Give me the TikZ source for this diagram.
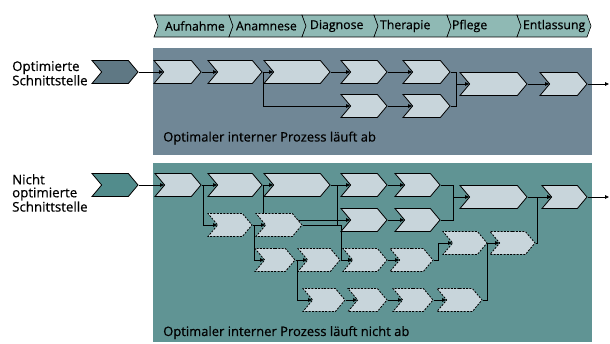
\documentclass[tikz,border=0pt]{standalone}
\usepackage{fontspec}
\setmainfont{Open Sans}
\newfontfamily\lblfont{Open Sans}[FakeBold=0.6]
\usetikzlibrary{positioning,shapes.symbols,arrows.meta}

\definecolor{phasefill}{HTML}{8FB9B4}
\definecolor{optpanel}{HTML}{708796}
\definecolor{noptpanel}{HTML}{609494}
\definecolor{stepfill}{HTML}{C8D5DB}
\definecolor{optin}{HTML}{5F7884}
\definecolor{noptin}{HTML}{528C8C}

\pgfdeclarelayer{panels}
\pgfdeclarelayer{lines}
\pgfsetlayers{panels,lines,main}

\tikzset{
  chev/.style={signal, signal from=west, signal to=east, signal pointer angle=100,
    draw=black, line width=0.8pt, fill=stepfill, inner sep=0pt, minimum height=23pt},
  extra/.style={chev, dash pattern=on 2pt off 1.3pt},
  phase/.style={signal, signal from=west, signal to=east, signal pointer angle=140,
    draw=black, line width=0.6pt, fill=phasefill, inner sep=0pt, minimum height=22pt,
    align=left, font=\lblfont\fontsize{12.3}{13}\selectfont},
  flow/.style={-{Triangle[length=4pt,width=3.5pt]}, line width=0.8pt},
  link/.style={line width=0.8pt},
  txt/.style={inner sep=0pt, font=\lblfont\fontsize{13}{13}\selectfont},
}

\begin{document}
\begin{tikzpicture}[x=1pt,y=-1pt]
\useasboundingbox (0,0) rectangle (610,344);

\def\yh{26}
\def\ya{72}
\def\yb{106}
\def\yc{84}
\def\yd{185}
\def\ye{220}
\def\yf{197}
\def\yp{225}
\def\yq{260}
\def\yr{243}
\def\ys{300}

% phases
\node[phase, minimum width=79pt, text width=57pt] (h1) at (193.5,\yh) {Aufnahme};
\node[phase, minimum width=77pt, text width=63pt] (h2) at (267.5,\yh) {Anamnese};
\node[phase, minimum width=76pt, text width=60pt] (h3) at (340,\yh) {Diagnose};
\node[phase, minimum width=77pt, text width=65pt] (h4) at (412.5,\yh) {Therapie};
\node[phase, minimum width=74pt, text width=64pt] (h5) at (484,\yh) {Pflege};
\node[phase, minimum width=74pt, text width=62pt] (h6) at (554,\yh) {Entlassung};

% panels
\begin{pgfonlayer}{panels}
\fill[optpanel] (153,48) rectangle (592,155);
\fill[noptpanel] (153,163) rectangle (592,342);
\end{pgfonlayer}

\node[txt, anchor=north west, align=left, font=\lblfont\fontsize{13.3}{13}\selectfont] (lopt) at (12,61) {Optimierte\\Schnittstelle};
\node[txt, anchor=north west, align=left, font=\lblfont\fontsize{13.3}{13}\selectfont] (lnopt) at (12,174) {Nicht\\optimierte\\Schnittstelle};
\node[txt, anchor=base west] (popt) at (163,141.5) {Optimaler interner Prozess läuft ab};
\node[txt, anchor=base west] (pnopt) at (163,336) {Optimaler interner Prozess läuft nicht ab};

% optimal process
\node[chev, fill=optin, minimum width=46pt] (tin) at (115,\ya) {};
\node[chev, minimum width=47pt] (ta) at (177.5,\ya) {};
\node[chev, minimum width=54pt] (tb) at (235,\ya) {};
\node[chev, minimum width=66pt] (tc) at (297,\ya) {};
\node[chev, minimum width=46pt] (td) at (364,\ya) {};
\node[chev, minimum width=47pt] (te) at (426.5,\ya) {};
\node[chev, minimum width=46pt] (td2) at (364,\yb) {};
\node[chev, minimum width=47pt] (te2) at (426.5,\yb) {};
\node[chev, minimum width=67pt] (tf) at (493.5,\yc) {};
\node[chev, minimum width=47pt] (tg) at (563.5,\yc) {};
\coordinate (tj) at (456,\yc);
\coordinate (tout) at (609,\yc);

\begin{pgfonlayer}{lines}
\draw[flow] (tin.east) -- (ta.west);
\draw[flow] (ta.east) -- (tb.west);
\draw[flow] (tb.east) -- (tc.west);
\draw[flow] (tc.east) -- (td.west);
\draw[flow] (td.east) -- (te.west);
\draw[flow] (tb.east) -- ++(1,0) |- (td2.west);
\draw[flow] (td2.east) -- (te2.west);
\draw[link] (te.east) -| (tj);
\draw[link] (te2.east) -| (tj);
\draw[flow] (tj) -- (tf.west);
\draw[flow] (tf.east) -- (tg.west);
\draw[flow] (tg.east) -- (tout);
\end{pgfonlayer}

% non optimal process
\node[chev, fill=noptin, minimum width=46pt] (bin) at (115,\yd) {};
\node[chev, minimum width=46pt] (ba) at (178,\yd) {};
\node[chev, minimum width=54pt] (bb) at (235,\yd) {};
\node[chev, minimum width=66pt] (bc) at (297,\yd) {};
\node[chev, minimum width=46pt] (bd) at (364,\yd) {};
\node[chev, minimum width=45pt] (be) at (417.5,\yd) {};
\node[chev, minimum width=46pt] (bd2) at (364,\ye) {};
\node[chev, minimum width=45pt] (be2) at (417.5,\ye) {};
\node[chev, minimum width=67pt] (bf) at (493.5,\yf) {};
\node[chev, minimum width=45pt] (bg) at (564.5,\yf) {};

\node[extra, minimum width=44pt] (p1) at (230,\yp) {};
\node[extra, minimum width=46pt] (p2) at (279,\yp) {};
\node[extra, minimum width=40pt] (q1) at (275,\yq) {};
\node[extra, minimum width=42pt] (q2) at (319,\yq) {};
\node[extra, minimum width=44pt] (q3) at (365,\yq) {};
\node[extra, minimum width=43pt] (q4) at (411.5,\yq) {};
\node[extra, minimum width=44pt] (r1) at (465,\yr) {};
\node[extra, minimum width=45pt] (r2) at (512.5,\yr) {};
\node[extra, minimum width=42pt] (s1) at (324,\ys) {};
\node[extra, minimum width=39pt] (s2) at (367.5,\ys) {};
\node[extra, minimum width=40pt] (s3) at (413,\ys) {};
\node[extra, minimum width=45pt] (s4) at (459.5,\ys) {};
\coordinate (bj) at (453,\yf);
\coordinate (bout) at (609,\yf);

\begin{pgfonlayer}{lines}
\draw[flow] (bin.east) -- (ba.west);
\draw[flow] (ba.east) -- (bb.west);
\draw[flow] (bb.east) -- (bc.west);
\draw[flow] (bc.east) -- (bd.west);
\draw[flow] (bd.east) -- (be.west);
\draw[flow] (bd2.east) -- (be2.west);
\draw[flow] (bb.east) -- ++(1,0) |- (bd2.west);
\draw[link] (bc.east) -- ++(7,0) -- ++(0,40);
\draw[flow] (ba.east) -- ++(2,0) |- (p1.west);
\draw[flow] (p1.east) -- (p2.west);
\draw[flow] (p1.east) -- ++(2,0) |- (q1.west);
\draw[flow] (p2.east) -- ++(39,0) |- (q3.west);
\draw[flow] (q1.east) -- (q2.west);
\draw[flow] (q2.east) -- (q3.west);
\draw[flow] (q3.east) -- (q4.west);
\draw[flow] (q1.east) -- ++(2,0) |- (s1.west);
\draw[flow] (s1.east) -- (s2.west);
\draw[flow] (s2.east) -- (s3.west);
\draw[flow] (s3.east) -- (s4.west);
\draw[flow] (q4.east) -- ++(5,0) |- (r1.west);
\draw[link] (s4.east) -| (r1.east);
\draw[flow] (r1.east) -- (r2.west);
\draw[flow] (r2.east) -- ++(2,0) |- (bg.west);
\draw[link] (be.east) -| (bj);
\draw[link] (be2.east) -| (bj);
\draw[flow] (bj) -- (bf.west);
\draw[flow] (bf.east) -- (bg.west);
\draw[flow] (bg.east) -- (bout);
\end{pgfonlayer}
\end{tikzpicture}
\end{document}
